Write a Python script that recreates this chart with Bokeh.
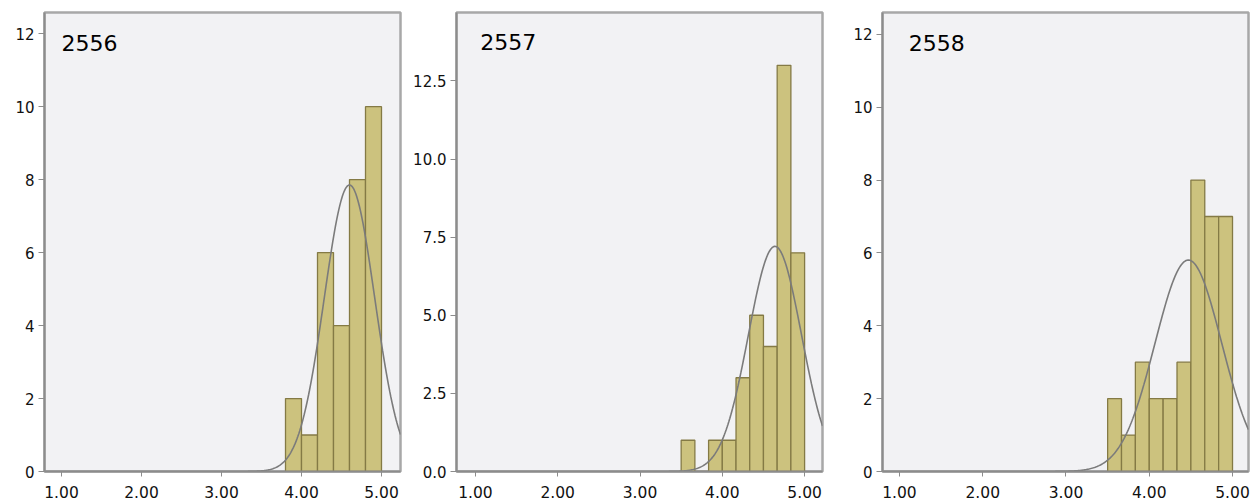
import numpy as np
from bokeh.plotting import figure
from bokeh.layouts import row
from bokeh.models import Range1d, FixedTicker, NumeralTickFormatter, Label
from bokeh.embed import file_html
from bokeh.resources import INLINE

# Histogram data per year (bin edges and counts)
years = ["2556", "2557", "2558"]

edges_2556 = [3.8, 4.0, 4.2, 4.4, 4.6, 4.8, 5.0]
counts_2556 = [2, 1, 6, 4, 8, 10]

edges_2557 = [3.5, 3.6667, 3.8333, 4.0, 4.1667, 4.3333, 4.5, 4.6667, 4.8333, 5.0]
counts_2557 = [1, 0, 1, 1, 3, 5, 4, 13, 7]

edges_2558 = [3.5, 3.6667, 3.8333, 4.0, 4.1667, 4.3333, 4.5, 4.6667, 4.8333, 5.0]
counts_2558 = [2, 1, 3, 2, 2, 3, 8, 7, 7]

# Fitted normal curve parameters (mean, standard deviation)
normal_2556 = (4.60, 0.315)
normal_2557 = (4.64, 0.323)
normal_2558 = (4.47, 0.401)

x_ticks = [1, 2, 3, 4, 5]
y_ticks_a = [0, 2, 4, 6, 8, 10, 12]
y_ticks_b = [0, 2.5, 5, 7.5, 10, 12.5]

FONT = "DejaVu Sans"
BAR_FILL = "#ccc27e"
BAR_LINE = "#847a45"
CURVE = "#7b7b7b"
PANEL_BG = "#f2f2f4"


def panel(edges, counts, normal, title, x_rng, y_rng, y_ticks, y_fmt,
          width, left, right, title_xy):
    p = figure(width=width, height=504, output_backend="svg", toolbar_location=None,
               x_range=Range1d(*x_rng), y_range=Range1d(*y_rng),
               min_border_left=left, min_border_right=right,
               min_border_top=12, min_border_bottom=33)
    p.background_fill_color = PANEL_BG
    p.border_fill_color = "white"
    p.outline_line_color = "#a8a8a8"
    p.outline_line_width = 2.5
    p.xgrid.visible = False
    p.ygrid.visible = False

    e = np.array(edges)
    c = np.array(counts, dtype=float)
    p.quad(left=e[:-1], right=e[1:], bottom=0, top=c,
           fill_color=BAR_FILL, line_color=BAR_LINE, line_width=1.3)

    # normal curve scaled to counts per bin
    mu, sd = normal
    bw = float(np.mean(np.diff(e)))
    n = c.sum()
    xs = np.linspace(x_rng[0], x_rng[1], 400)
    ys = n * bw / (sd * np.sqrt(2 * np.pi)) * np.exp(-0.5 * ((xs - mu) / sd) ** 2)
    p.line(xs, ys, line_color=CURVE, line_width=1.6)

    p.xaxis.ticker = FixedTicker(ticks=x_ticks)
    p.xaxis.formatter = NumeralTickFormatter(format="0.00")
    p.yaxis.ticker = FixedTicker(ticks=y_ticks)
    p.yaxis.formatter = NumeralTickFormatter(format=y_fmt)
    for ax in (p.xaxis[0], p.yaxis[0]):
        ax.axis_line_color = "#8c8c8c"
        ax.axis_line_width = 2
        ax.major_tick_line_color = "#8c8c8c"
        ax.minor_tick_line_color = None
        ax.major_tick_in = 0
        ax.major_label_text_font = FONT
        ax.major_label_text_color = "#111111"
    p.xaxis.major_tick_out = 5
    p.xaxis.major_label_standoff = 9
    p.xaxis.major_label_text_font_size = "15.5px"
    p.yaxis.major_tick_out = 6
    p.yaxis.major_label_standoff = 4
    p.yaxis.major_label_text_font_size = "15px"

    p.add_layout(Label(x=title_xy[0], y=title_xy[1], text=title,
                       text_font=FONT, text_font_size="22px",
                       text_color="black", text_baseline="middle"))
    return p


p1 = panel(edges_2556, counts_2556, normal_2556, years[0],
           (0.7875, 5.2375), (0, 12.58), y_ticks_a, "0",
           410, 44, 10, (1.0, 11.75))
p2 = panel(edges_2557, counts_2557, normal_2557, years[1],
           (0.770, 5.2175), (0, 14.69), y_ticks_b, "0.0",
           420, 44, 8, (1.06, 13.75))
p3 = panel(edges_2558, counts_2558, normal_2558, years[2],
           (0.796, 5.192), (0, 12.6), y_ticks_a, "0",
           423, 52, 5, (1.11, 11.77))

layout = row(p1, p2, p3, spacing=0)
open("out.html", "w").write(file_html(layout, INLINE))
